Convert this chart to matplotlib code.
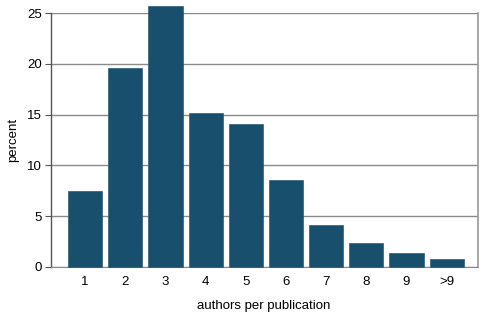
import matplotlib
matplotlib.use('Agg')
import matplotlib.pyplot as plt

# authors per publication distribution
categories = ['1', '2', '3', '4', '5', '6', '7', '8', '9', '>9']
percent = [7.45, 19.6, 25.7, 15.15, 14.05, 8.55, 4.15, 2.3, 1.35, 0.8]

plt.rcParams['font.family'] = ['Liberation Sans', 'DejaVu Sans']
plt.rcParams['font.size'] = 9.5

fig = plt.figure(figsize=(4.82, 3.13), dpi=100)
ax = fig.add_axes([0.1048, 0.148, 0.8862, 0.8095])

x = list(range(len(categories)))
bars = ax.bar(x, percent, width=0.85, color='#174f6c', edgecolor='#2a5f7a',
              linewidth=0.5, zorder=3)
for b in bars:
    b.set_clip_on(False)

ax.set_ylim(0, 25)
ax.set_xlim(-0.86, 9.77)
ax.set_yticks([0, 5, 10, 15, 20, 25])
ax.set_xticks(x)
ax.set_xticklabels(categories)

ax.yaxis.grid(True, color='#8a8a8a', linewidth=1.0, zorder=0)
ax.set_axisbelow(True)
ax.spines['top'].set_visible(False)
ax.spines['left'].set_color('#555555')
ax.spines['bottom'].set_color('#8a8a8a')
ax.spines['right'].set_color('#999999')
ax.spines['left'].set_linewidth(1.0)
ax.spines['right'].set_linewidth(1.2)

ax.tick_params(axis='y', length=4, color='#555555', pad=2)
ax.tick_params(axis='x', length=0, pad=7)

ax.set_xlabel('authors per publication', labelpad=8)
ax.set_ylabel('percent', labelpad=6)

fig.savefig('out.png', dpi=100)
